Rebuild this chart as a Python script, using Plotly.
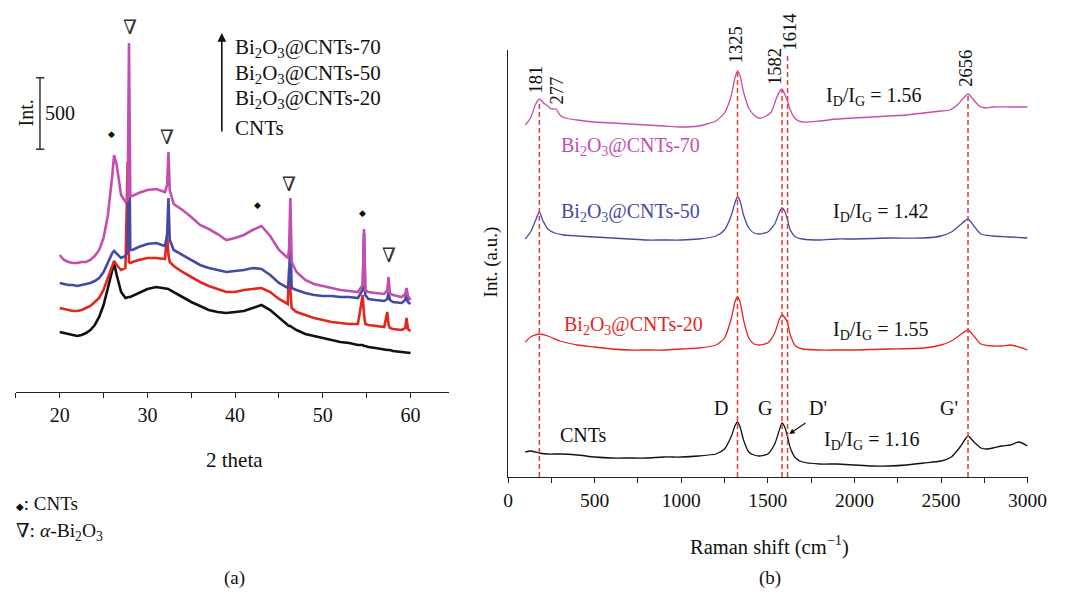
import plotly.graph_objects as go

# ---------------- Panel (a): XRD ----------------
two_theta = [20, 20.5, 21, 21.5, 22, 22.5, 23, 23.5, 24, 24.5, 25, 25.5, 26, 26.2, 26.5, 27, 27.5, 27.75, 27.9, 28.05,
             28.3, 29, 30, 31, 32, 32.25, 32.4, 32.55, 33, 34, 35, 36, 37, 38, 39, 40, 41, 42, 43, 44, 45, 46, 46.15,
             46.3, 46.45, 47, 48, 49, 50, 51, 52, 53, 54, 54.55, 54.7, 54.85, 55.2, 56, 57, 57.35, 57.5, 57.65, 58,
             59, 59.4, 59.55, 59.7, 60]

xrd_cnts = [420, 413, 406, 399, 392, 399, 413, 434, 469, 525, 609, 728, 868, 903, 819, 700, 658, 665, 665, 665,
            672, 693, 721, 735, 728, 721, 721, 714, 700, 665, 630, 602, 574, 560, 553, 560, 567, 588, 609, 574, 518,
            469, 462, 462, 455, 434, 406, 392, 378, 364, 350, 343, 329, 329, 322, 322, 315, 308, 294, 294, 294, 294,
            287, 280, 280, 280, 280, 273]
xrd_20 = [588, 581, 574, 567, 567, 574, 588, 602, 630, 658, 714, 798, 896, 917, 889, 854, 868, 1610, 910, 903,
          910, 924, 938, 938, 931, 1099, 959, 910, 882, 840, 805, 770, 742, 721, 700, 700, 714, 721, 728, 700, 651,
          616, 868, 714, 588, 560, 539, 518, 504, 490, 483, 476, 476, 679, 539, 476, 469, 462, 455, 560, 469, 448,
          441, 434, 448, 518, 441, 427]
xrd_50 = [763, 756, 749, 749, 742, 749, 756, 763, 777, 798, 840, 910, 973, 987, 966, 938, 952, 980, 1918, 994,
          994, 1015, 1036, 1043, 1022, 1099, 1358, 1064, 994, 959, 924, 889, 868, 854, 840, 847, 854, 868, 861, 819,
          763, 728, 784, 1099, 728, 714, 693, 679, 672, 672, 665, 665, 658, 714, 1113, 679, 651, 644, 637, 651, 700,
          644, 630, 623, 644, 693, 630, 616]
xrd_70 = [959, 924, 910, 903, 903, 910, 910, 924, 952, 994, 1078, 1239, 1519, 1659, 1589, 1379, 1330, 1344, 2443,
          1372, 1372, 1393, 1414, 1421, 1400, 1449, 1680, 1414, 1316, 1274, 1225, 1169, 1141, 1106, 1064, 1078, 1099,
          1134, 1162, 1092, 994, 938, 994, 1358, 910, 840, 784, 756, 742, 728, 714, 707, 700, 749, 1141, 714, 700,
          693, 686, 714, 805, 693, 679, 665, 686, 728, 672, 644]

xrd_ticks = [15, 20, 25, 30, 35, 40, 45, 50, 55, 60]
xrd_ticklabels = ["", "20", "", "30", "", "40", "", "50", "", "60"]

# marker symbols (◆ CNTs, ∇ α-Bi2O3): positions (2θ, counts)
diamond_x = [25.96, 42.6, 54.5]
diamond_y = [1806, 1309, 1253]
nabla_x = [27.98, 32.25, 46.2, 57.5]
nabla_y = [2555, 1785, 1456, 959]

xrd_legend = ["Bi<sub>2</sub>O<sub>3</sub>@CNTs-70", "Bi<sub>2</sub>O<sub>3</sub>@CNTs-50",
              "Bi<sub>2</sub>O<sub>3</sub>@CNTs-20", "CNTs"]

# ---------------- Panel (b): Raman ----------------
r70_x = [100, 130, 160, 181, 205, 230, 250, 277, 300, 330, 400, 500, 600, 700, 800, 900, 1000, 1100, 1150, 1200,
         1250, 1290, 1310, 1325, 1340, 1360, 1390, 1420, 1450, 1480, 1520, 1550, 1570, 1582, 1600, 1614, 1630, 1660,
         1700, 1800, 1900, 2000, 2100, 2200, 2300, 2400, 2500, 2550, 2600, 2630, 2656, 2680, 2720, 2760, 2800, 2900,
         3000]
r70_y = [352, 359, 373, 378, 374, 371, 368, 368, 362, 359, 357, 355, 354, 353, 352, 351, 350, 351, 353, 356,
         364, 382, 399, 406, 401, 385, 369, 362, 359, 360, 365, 379, 386, 388, 382, 376, 367, 358, 355, 356,
         358, 359, 360, 361, 362, 364, 366, 367, 373, 379, 383, 379, 371, 369, 370, 370, 370]

r50_x = [100, 130, 160, 181, 200, 230, 270, 320, 400, 500, 600, 700, 800, 900, 1000, 1100, 1200, 1250, 1290, 1310,
         1325, 1340, 1360, 1390, 1420, 1450, 1500, 1540, 1565, 1582, 1600, 1614, 1630, 1660, 1700, 1800, 1900, 2000,
         2200, 2400, 2500, 2560, 2610, 2656, 2690, 2730, 2800, 2900, 3000]
r50_y = [238, 245, 257, 265, 257, 248, 244, 242, 241, 240, 239, 238, 237, 237, 237, 238, 241, 247, 262, 274,
         280, 276, 262, 249, 244, 243, 245, 253, 264, 269, 265, 257, 247, 240, 238, 237, 238, 238, 239, 239,
         241, 245, 252, 258, 251, 243, 241, 240, 239]

r20_x = [100, 130, 181, 230, 300, 400, 500, 600, 700, 800, 900, 1000, 1100, 1200, 1250, 1290, 1310, 1325, 1340,
         1360, 1390, 1420, 1450, 1500, 1540, 1565, 1582, 1600, 1614, 1630, 1660, 1700, 1800, 1900, 2000, 2200, 2400,
         2500, 2560, 2610, 2656, 2690, 2730, 2800, 2850, 2900, 2950, 3000]
r20_y = [135, 140, 143, 141, 136, 132, 130, 128, 127, 127, 127, 128, 129, 132, 139, 159, 175, 180, 175, 157,
         139, 133, 132, 134, 144, 157, 162, 159, 154, 142, 131, 128, 127, 127, 127, 128, 129, 132, 136, 142,
         147, 141, 133, 131, 131, 132, 130, 127]

rc_x = [100, 130, 181, 230, 300, 400, 500, 600, 700, 800, 900, 1000, 1100, 1200, 1250, 1290, 1310, 1325, 1340,
        1360, 1390, 1420, 1450, 1500, 1540, 1565, 1582, 1600, 1614, 1630, 1660, 1700, 1800, 1900, 2000, 2100, 2200,
        2300, 2400, 2500, 2560, 2610, 2656, 2690, 2730, 2760, 2800, 2850, 2900, 2950, 3000]
rc_y = [25, 26, 24, 23, 23, 22, 20, 19, 19, 19, 20, 20, 21, 23, 28, 41, 51, 55, 50, 37,
        25, 22, 21, 23, 33, 46, 54, 49, 40, 29, 19, 15, 13, 13, 12, 11, 11, 12, 14, 16,
        20, 30, 41, 35, 29, 28, 29, 31, 32, 35, 31]

peak_pos = [181, 1325, 1582, 1614, 2656]
peak_line_top = [374, 405, 387, 422, 382]
peak_labels = ["181", "277", "1325", "1582", "1614", "2656"]
peak_label_x = [159, 280, 1318, 1541, 1631, 2643]
peak_label_y = [397, 386, 432, 411, 445, 409]

raman_ticks = [0, 250, 500, 750, 1000, 1250, 1500, 1750, 2000, 2250, 2500, 2750, 3000]
raman_ticklabels = ["0", "", "500", "", "1000", "", "1500", "", "2000", "", "2500", "", "3000"]

ratio_labels = ["I<sub>D</sub>/I<sub>G</sub> = 1.56", "I<sub>D</sub>/I<sub>G</sub> = 1.42",
                "I<sub>D</sub>/I<sub>G</sub> = 1.55", "I<sub>D</sub>/I<sub>G</sub> = 1.16"]

MAG = "#c64db0"
BLU = "#4549a6"
RED = "#e2281e"
BLK = "#111111"
DASH = "#e8392f"
FONT = "Liberation Serif, DejaVu Serif, serif"
W, H = 1073, 594

X1_DOM = [11.1 / W, 454.7 / W]
X1_RANGE = [15, 64.4]
X2_DOM = [515 / W, 1047 / W]
Y2_DOM = [1 - 477 / H, 1 - 50 / H]
Y2_RANGE = [0, 427]

fig = go.Figure()
for xs, ys, c in [(two_theta, xrd_cnts, BLK), (two_theta, xrd_20, RED), (two_theta, xrd_50, BLU), (two_theta, xrd_70, MAG)]:
    fig.add_trace(go.Scatter(x=xs, y=ys, mode="lines", line=dict(color=c, width=2.6), xaxis="x", yaxis="y",
                             showlegend=False, hoverinfo="skip"))
for xs, ys, c in [(rc_x, rc_y, BLK), (r20_x, r20_y, RED), (r50_x, r50_y, BLU), (r70_x, r70_y, MAG)]:
    fig.add_trace(go.Scatter(x=xs, y=ys, mode="lines", line=dict(color=c, width=1.3, shape="spline", smoothing=0.6),
                             xaxis="x2", yaxis="y2", showlegend=False, hoverinfo="skip"))

shapes = []
for p, t in zip(peak_pos, peak_line_top):
    shapes.append(dict(type="line", xref="x2", yref="y2", x0=p, x1=p, y0=0, y1=t,
                       line=dict(color=DASH, width=1.5, dash="5px,3px")))
# scale bar (500 counts)
shapes.append(dict(type="line", xref="x", yref="y", x0=17.75, x1=17.75, y0=1700, y1=2200, line=dict(color="#333", width=1.5)))
shapes.append(dict(type="line", xref="x", yref="y", x0=17.3, x1=18.25, y0=1700, y1=1700, line=dict(color="#333", width=1.5)))
shapes.append(dict(type="line", xref="x", yref="y", x0=17.3, x1=18.25, y0=2200, y1=2200, line=dict(color="#333", width=1.5)))

ann = []


def txt(text, px, py, size=18, color="#111", xanchor="center", angle=0):
    ann.append(dict(text=text, x=px / W, y=1 - py / H, xref="paper", yref="paper", showarrow=False,
                    xanchor=xanchor, yanchor="middle", textangle=angle, font=dict(family=FONT, size=size, color=color)))


def dtxt(text, x, y, xr, yr, size=18, color="#111", xanchor="center", angle=0, family=FONT):
    ann.append(dict(text=text, x=x, y=y, xref=xr, yref=yr, showarrow=False, xanchor=xanchor, yanchor="middle",
                    textangle=angle, font=dict(family=family, size=size, color=color)))


def y2paper(v):
    return Y2_DOM[0] + (v - Y2_RANGE[0]) / (Y2_RANGE[1] - Y2_RANGE[0]) * (Y2_DOM[1] - Y2_DOM[0])


# panel (a) markers
for x, y in zip(diamond_x, diamond_y):
    dtxt("◆", x, y, "x", "y", size=9, family="DejaVu Sans")
for x, y in zip(nabla_x, nabla_y):
    dtxt("∇", x, y, "x", "y", size=20, color="#333", family="DejaVu Serif")

txt("Int.", 21, 113, size=20, angle=-90)
txt("500", 39, 113, size=20, xanchor="left")
for lab, py in zip(xrd_legend, [48, 74, 99, 128]):
    txt(lab, 233, py, size=21, xanchor="left")
ann.append(dict(x=222 / W, y=1 - 33 / H, xref="paper", yref="paper", ax=0, ay=100, axref="pixel", ayref="pixel",
                showarrow=True, arrowhead=2, arrowsize=1.1, arrowwidth=1.6, arrowcolor="#111", text=""))
txt("2 theta", 235, 460, size=21)
txt("<span style='font-family:DejaVu Sans;font-size:10px'>◆</span>: CNTs", 9, 503, size=19, xanchor="left")
txt("∇: <i>α</i>-Bi<sub>2</sub>O<sub>3</sub>", 9, 532, size=19.5, xanchor="left")
txt("(a)", 235, 578, size=19)

# panel (b) labels
for lab, x, y in zip(peak_labels, peak_label_x, peak_label_y):
    dtxt(lab, x, y2paper(y), "x2", "paper", size=18.5, angle=-90)
dtxt("Bi<sub>2</sub>O<sub>3</sub>@CNTs-70", 293, 330, "x2", "y2", size=20, color=MAG, xanchor="left")
dtxt("Bi<sub>2</sub>O<sub>3</sub>@CNTs-50", 293, 264, "x2", "y2", size=20, color=BLU, xanchor="left")
dtxt("Bi<sub>2</sub>O<sub>3</sub>@CNTs-20", 312, 152, "x2", "y2", size=20, color=RED, xanchor="left")
dtxt("CNTs", 287, 42, "x2", "y2", size=20, xanchor="left")
for lab, x, y in zip(ratio_labels, [1822, 1866, 1866, 1815], [380, 264, 147, 37]):
    dtxt(lab, x, y, "x2", "y2", size=20, xanchor="left")
for lab, x in zip(["D", "G", "D'", "G'"], [1229, 1484, 1790, 2548]):
    dtxt(lab, x, 69, "x2", "y2", size=20)
ann.append(dict(x=1624, y=43, xref="x2", yref="y2", ax=1726, ay=55, axref="x2", ayref="y2", showarrow=True,
                arrowhead=2, arrowsize=0.9, arrowwidth=1.2, arrowcolor="#111", text=""))
txt("Int. (a.u.)", 498, 262, size=19, angle=-90)
txt("Raman shift (cm<sup>−1</sup>)", 783, 545, size=20.5)
txt("(b)", 783, 578, size=19)

fig.update_layout(
    width=W, height=H, margin=dict(l=0, r=0, t=0, b=0), paper_bgcolor="white", plot_bgcolor="white",
    font=dict(family=FONT, size=18, color="#111"), showlegend=False, shapes=shapes, annotations=ann,
    xaxis=dict(domain=X1_DOM, range=X1_RANGE, showline=True, linecolor="#222", linewidth=1.3,
               ticks="outside", ticklen=5, tickcolor="#222", tickvals=xrd_ticks, ticktext=xrd_ticklabels,
               showgrid=False, zeroline=False, anchor="y", tickfont=dict(size=20)),
    yaxis=dict(domain=[1 - 392 / H, 1 - 10 / H], range=[0, 2674], visible=False, anchor="x"),
    xaxis2=dict(domain=X2_DOM, range=[0, 3000], showline=True, linecolor="#222", linewidth=1.3,
                ticks="outside", ticklen=5, tickcolor="#222", tickvals=raman_ticks, ticktext=raman_ticklabels,
                showgrid=False, zeroline=False, anchor="y2", tickfont=dict(size=19.5)),
    yaxis2=dict(domain=Y2_DOM, range=Y2_RANGE, showline=True, linecolor="#222", linewidth=1.3,
                showticklabels=False, ticks="", showgrid=False, zeroline=False, anchor="x2"),
)

fig.write_html("out.html", config={"displayModeBar": False},
               post_script="document.body.style.margin='0';document.body.style.overflow='hidden';")
